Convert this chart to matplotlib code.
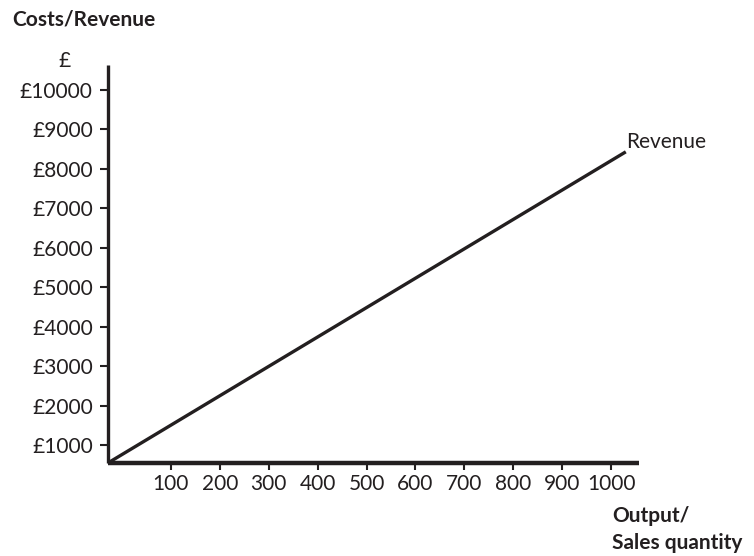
import numpy as np
import matplotlib.pyplot as plt

# 데이터
output_qty = [-25, 1030]
revenue = [580, 8430]
x_ticks = [100, 200, 300, 400, 500, 600, 700, 800, 900, 1000]
y_ticks = [1000, 2000, 3000, 4000, 5000, 6000, 7000, 8000, 9000, 10000]
y_labels = [f'£{v}' for v in y_ticks]

ink = '#231f20'
plt.rcParams['font.family'] = ['Lato', 'DejaVu Sans']
fs = 15

W, H = 754, 556
fig = plt.figure(figsize=(W / 100, H / 100), dpi=100)

# 축 위치 (픽셀 기준)
left, right, top, bottom = 108, 639, 65, 463
ax = fig.add_axes([left / W, 1 - bottom / H, (right - left) / W, (bottom - top) / H])

ax.plot(output_qty, revenue, color=ink, lw=2.4, solid_capstyle='butt')

ax.set_xlim(-28.6, 1057)
ax.set_ylim(552, 10628)

ax.set_xticks(x_ticks)
ax.set_xticklabels([str(v) for v in x_ticks])
ax.set_yticks(y_ticks)
ax.set_yticklabels(y_labels)

ax.spines['top'].set_visible(False)
ax.spines['right'].set_visible(False)
ax.spines['left'].set_linewidth(2.4)
ax.spines['bottom'].set_linewidth(3.2)
ax.spines['left'].set_color(ink)
ax.spines['bottom'].set_color(ink)
ax.spines['left'].set_capstyle('butt')
ax.spines['bottom'].set_capstyle('butt')

ax.tick_params(axis='y', length=6, width=1.5, color=ink, pad=5,
               labelsize=fs, labelcolor=ink)
ax.tick_params(axis='x', length=5, width=1.5, color=ink, pad=3,
               labelsize=fs, labelcolor=ink)

ax.text(1030, 8430, 'Revenue', fontsize=fs, color=ink, ha='left', va='bottom')

fig.text(12 / W, 1 - 20 / H, 'Costs/Revenue', fontsize=fs, fontweight='bold',
         color=ink, ha='left', va='center')
fig.text(65 / W, 1 - 61 / H, '£', fontsize=fs, color=ink, ha='center', va='center')
fig.text(612 / W, 1 - 516 / H, 'Output/', fontsize=fs, fontweight='bold',
         color=ink, ha='left', va='center')
fig.text(612 / W, 1 - 543 / H, 'Sales quantity', fontsize=fs, fontweight='bold',
         color=ink, ha='left', va='center')

fig.savefig('out.png', dpi=100)
